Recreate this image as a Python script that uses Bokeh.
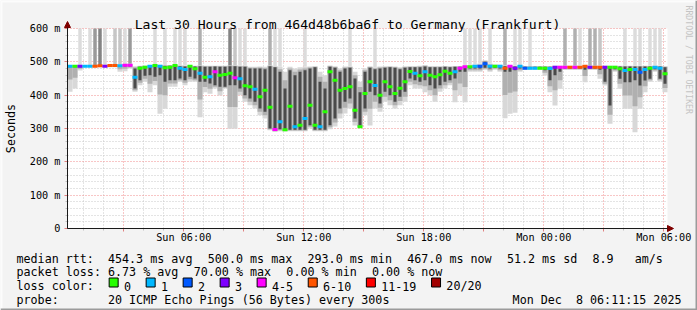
import math
from bokeh.plotting import figure
from bokeh.models import (Range1d, FixedTicker, Label, Arrow, NormalHead,
                          BoxAnnotation, ColumnDataSource, LinearAxis, Grid)
from bokeh.embed import file_html
from bokeh.resources import INLINE

# ---------------- data ----------------
START_H = 0.1875      # Sun 00:11:15 expressed in hours since Sun 00:00
STEP_H = 0.25         # one sample every 15 minutes
SPAN_H = 30.0

median_ms = [
    487, 487, 487, 487, 487, 487, 488, 487, 489, 489, 488, 490,
    490, 454, 481, 484, 487, 489, 487, 482, 484, 489, 481, 477,
    487, 479, 466, 454, 455, 470, 460, 462, 466, 452, 449, 428,
    425, 418, 395, 415, 364, 297, 320, 296, 367, 305, 310, 330,
    370, 310, 305, 350, 470, 445, 415, 420, 425, 355, 305, 405,
    440, 429, 400, 440, 425, 405, 421, 440, 471, 466, 458, 470,
    460, 455, 461, 472, 466, 470, 481, 485, 485, 487, 487, 494,
    487, 487, 487, 481, 487, 481, 487, 481, 481, 481, 481, 481,
    480, 484, 484, 484, 484, 484, 484, 487, 484, 484, 484, 484,
    484, 484, 479, 474, 477, 477, 469, 477, 481, 484, 481, 464,
]
loss_cnt = [
    1, 0, 3, 1, 1, 7, 7, 3, 7, 7, 1, 4,
    4, 1, 0, 0, 1, 0, 1, 0, 0, 0, 1, 1,
    0, 0, 1, 0, 1, 4, 0, 0, 0, 4, 1, 0,
    0, 1, 0, 0, 0, 4, 1, 0, 0, 1, 0, 1,
    0, 0, 1, 0, 0, 0, 0, 0, 0, 0, 0, 0,
    0, 1, 0, 0, 0, 0, 0, 0, 0, 1, 0, 1,
    0, 0, 0, 0, 0, 1, 4, 4, 0, 1, 2, 2,
    1, 0, 1, 7, 4, 3, 1, 2, 1, 1, 0, 0,
    1, 3, 4, 4, 7, 4, 7, 7, 3, 7, 7, 3,
    0, 0, 0, 1, 0, 1, 2, 1, 0, 1, 1, 0,
]
min_ms = [
    410, 420, 474, 484, 484, 484, 484, 484, 484, 484, 470, 472,
    480, 410, 430, 440, 409, 430, 344, 359, 425, 425, 440, 430,
    440, 440, 334, 409, 404, 420, 399, 420, 299, 299, 400, 380,
    370, 360, 340, 330, 295, 290, 292, 291, 292, 292, 292, 292,
    300, 292, 292, 292, 298, 306, 330, 345, 360, 309, 304, 340,
    309, 360, 350, 380, 370, 360, 370, 380, 430, 420, 420, 409,
    400, 380, 410, 420, 430, 379, 400, 379, 470, 470, 470, 476,
    470, 476, 470, 331, 344, 347, 470, 476, 476, 476, 476, 459,
    409, 369, 419, 476, 476, 476, 476, 439, 476, 476, 449, 429,
    314, 470, 419, 359, 359, 289, 359, 409, 440, 470, 440, 409,
]
low_ms = [
    484, 484, 484, 485, 485, 485, 485, 485, 486, 486, 485, 486,
    486, 420, 445, 458, 460, 455, 460, 440, 445, 445, 450, 445,
    455, 450, 440, 440, 435, 430, 425, 425, 430, 430, 420, 400,
    390, 380, 360, 350, 300, 293, 298, 294, 296, 296, 296, 296,
    310, 296, 296, 296, 310, 330, 360, 380, 390, 330, 309, 360,
    410, 400, 375, 410, 400, 380, 395, 410, 450, 445, 440, 445,
    430, 420, 430, 440, 445, 450, 470, 470, 480, 480, 480, 482,
    480, 482, 480, 470, 470, 475, 480, 480, 480, 480, 480, 475,
    445, 460, 470, 480, 480, 480, 480, 476, 480, 480, 476, 440,
    369, 478, 449, 439, 439, 445, 429, 444, 449, 478, 449, 434,
]
high_ms = [
    489, 489, 489, 489, 489, 489, 489, 489, 490, 490, 490, 491,
    492, 480, 485, 486, 488, 489, 489, 488, 488, 489, 487, 486,
    487, 486, 487, 485, 485, 486, 485, 485, 487, 487, 485, 485,
    480, 480, 480, 478, 487, 484, 470, 420, 475, 460, 470, 475,
    480, 484, 440, 420, 485, 482, 470, 480, 482, 450, 409, 470,
    482, 478, 480, 482, 484, 482, 478, 482, 484, 484, 484, 486,
    484, 484, 484, 485, 484, 485, 485, 486, 487, 488, 488, 500,
    489, 489, 489, 487, 487, 486, 487, 485, 485, 485, 485, 485,
    485, 486, 486, 486, 486, 486, 486, 488, 486, 486, 486, 486,
    486, 486, 486, 486, 486, 486, 486, 486, 486, 486, 486, 484,
]
max_ms = [
    490, 490, 490, 490, 490, 490, 490, 490, 492, 492, 492, 493,
    494, 487, 488, 489, 490, 491, 491, 490, 490, 491, 490, 489,
    489, 488, 489, 488, 488, 488, 488, 488, 489, 489, 488, 488,
    485, 485, 486, 485, 489, 487, 485, 470, 485, 480, 484, 485,
    486, 487, 470, 460, 489, 487, 480, 486, 487, 470, 440, 480,
    487, 484, 486, 487, 487, 486, 484, 487, 487, 487, 488, 490,
    487, 487, 487, 487, 487, 487, 487, 488, 489, 492, 495, 505,
    495, 492, 491, 490, 490, 488, 489, 487, 487, 487, 487, 487,
    487, 488, 488, 488, 488, 488, 488, 490, 488, 488, 488, 488,
    488, 488, 488, 488, 488, 488, 488, 488, 488, 488, 488, 487,
]
# pings of a sample that went above the top of the graph (600 ms)
over_cnt = [
    0, 0, 1, 0, 1, 4, 5, 1, 0, 2, 2, 1,
    4, 0, 0, 0, 0, 1, 0, 1, 0, 1, 1, 1,
    0, 0, 3, 0, 0, 0, 0, 0, 5, 2, 1, 1,
    0, 0, 0, 0, 3, 1, 1, 0, 0, 0, 0, 1,
    0, 0, 0, 0, 0, 0, 0, 0, 1, 0, 0, 0,
    0, 1, 0, 0, 0, 0, 0, 0, 0, 0, 0, 0,
    0, 0, 0, 0, 0, 0, 0, 1, 1, 1, 1, 0,
    1, 0, 0, 3, 0, 1, 1, 0, 1, 0, 0, 0,
    0, 0, 0, 3, 0, 3, 1, 0, 3, 3, 2, 0,
    0, 0, 0, 1, 0, 1, 1, 0, 1, 1, 1, 0,
]

x_tick_hours = [6, 12, 18, 24, 30]
x_tick_labels = ["Sun 06:00", "Sun 12:00", "Sun 18:00", "Mon 00:00", "Mon 06:00"]
y_tick_values = [0, 100, 200, 300, 400, 500, 600]
y_tick_labels = ["0", "100 m", "200 m", "300 m", "400 m", "500 m", "600 m"]

loss_upper = [0, 1, 2, 3, 5, 10, 19, 20]
loss_names = ["0", "1", "2", "3", "4-5", "6-10", "11-19", "20/20"]
loss_colors = ["#26ff00", "#00b8ff", "#0059ff", "#7e00ff",
               "#ff00ff", "#ff5500", "#ff0000", "#a10000"]

title_text = "Last 30 Hours from 464d48b6ba6f to Germany (Frankfurt)"
rtt_items = ["median rtt:  454.3 ms avg", "500.0 ms max", "293.0 ms min",
             "467.0 ms now", "51.2 ms sd", "8.9   am/s"]
loss_items = ["packet loss: 6.73 % avg", "70.00 % max", "0.00 % min", "0.00 % now"]
probe_item = "probe:       20 ICMP Echo Pings (56 Bytes) every 300s"
date_text = "Mon Dec  8 06:11:15 2025"

# ---------------- layout helpers (canvas pixel -> data) ----------------
W, H = 697, 310
FL, FT, FW, FH = 67, 28, 600, 200
Y_MAX = 600.0
CHAR_W = 7.046          # advance of the legend font
ITEM_GAP = 15.15        # rrdtool gap between legend items
BOX_ADV = 14.8          # legend box + space before its text


def dx(px):
    return START_H + (px - FL) * SPAN_H / FW


def dy(py):
    return (FT + FH - py) * Y_MAX / FH


def loss_color(c):
    for up, col in zip(loss_upper, loss_colors):
        if c <= up:
            return col
    return loss_colors[-1]


def over_gray(n):
    g = max(0x80, 0xdc - 0x16 * (n - 1))
    return "#%02x%02x%02x" % (g, g, g)


n = len(median_ms)
times = [START_H + STEP_H * (i + 0.5) for i in range(n)]

src = ColumnDataSource(dict(
    t=times, med=median_ms, lo=min_ms, lo2=low_ms, hi2=high_ms, hi=max_ms,
    mlo=[(a + b) / 2 for a, b in zip(min_ms, low_ms)],
    mhi=[(a + b) / 2 for a, b in zip(high_ms, max_ms)],
    lcol=[loss_color(c) for c in loss_cnt],
))

spk_idx = [i for i in range(n) if over_cnt[i] > 0]
spk = ColumnDataSource(dict(
    t=[times[i] for i in spk_idx],
    bot=[max_ms[i] for i in spk_idx],
    top=[Y_MAX for i in spk_idx],
    col=[over_gray(over_cnt[i]) for i in spk_idx],
))

# whole canvas is the frame; the graph area is [START_H, START_H+30] x [0, 600]
p = figure(frame_width=W, frame_height=H,
           x_range=Range1d(dx(0), dx(W)), y_range=Range1d(dy(H), dy(0)),
           output_backend="svg", toolbar_location=None,
           x_axis_location=None, y_axis_location=None,
           min_border=0, min_border_left=0, min_border_right=0,
           min_border_top=0, min_border_bottom=0)
p.center = []
p.background_fill_color = "#f3f3f3"
p.border_fill_color = "#f3f3f3"
p.outline_line_color = None

MONO = "DejaVu Sans Mono"
AXIS_COL = "#1a1a1a"

# white canvas of the graph
p.add_layout(BoxAnnotation(left=START_H, right=START_H + SPAN_H, bottom=0, top=Y_MAX,
                           fill_color="#ffffff", fill_alpha=1.0, line_color=None,
                           level="image"))

xt = list(range(3, 31, 3))
x_ticker = FixedTicker(ticks=xt, minor_ticks=[h for h in range(1, 31) if h % 3])
y_ticker = FixedTicker(ticks=y_tick_values,
                       minor_ticks=[v for v in range(20, 600, 20) if v % 100])

# grids
has_cross = "cross_bounds" in Grid.properties()
for dim, tk, b, cb in [(0, x_ticker, (START_H, START_H + SPAN_H), (0, Y_MAX)),
                       (1, y_ticker, (0, Y_MAX), (START_H, START_H + SPAN_H))]:
    g = Grid(dimension=dim, ticker=tk, bounds=b,
             grid_line_color="#f08c8c", grid_line_dash="1 2", grid_line_width=1,
             minor_grid_line_color="#c8c8c8", minor_grid_line_dash="1 2",
             minor_grid_line_width=1, level="underlay")
    if has_cross:
        g.cross_bounds = cb
    p.add_layout(g)

# axes fixed on the graph edges
xaxis = LinearAxis(fixed_location=0, bounds=(START_H, START_H + SPAN_H), ticker=x_ticker)
ov = {h: "" for h in xt}
for h, lab in zip(x_tick_hours, x_tick_labels):
    ov[h] = lab
xaxis.major_label_overrides = ov
yaxis = LinearAxis(fixed_location=START_H, bounds=(0, Y_MAX), ticker=y_ticker)
yaxis.major_label_overrides = dict(zip(y_tick_values, y_tick_labels))
for ax in (xaxis, yaxis):
    ax.axis_line_color = AXIS_COL
    ax.major_tick_line_color = "#e08080"
    ax.major_tick_in = 0
    ax.major_tick_out = 3
    ax.minor_tick_line_color = "#c0c0c0"
    ax.minor_tick_in = 0
    ax.minor_tick_out = 2
    ax.major_label_text_font = MONO
    ax.major_label_text_font_size = "10.2px"
    ax.major_label_text_color = "#000000"
xaxis.major_label_standoff = 0
yaxis.major_label_standoff = 4
p.add_layout(xaxis, "below")
p.add_layout(yaxis, "left")

# ---------------- smoke ----------------
p.vbar(x="t", bottom="lo", top="hi", width=STEP_H, source=src,
       fill_color="#d8d8d8", line_color=None)
p.vbar(x="t", bottom="mlo", top="mhi", width=STEP_H, source=src,
       fill_color="#b0b0b0", line_color=None)
p.vbar(x="t", bottom="lo2", top="hi2", width=STEP_H * 0.6, source=src,
       fill_color="#4a4a4a", line_color=None)
p.vbar(x="t", bottom="bot", top="top", width=STEP_H * 0.7, source=spk,
       fill_color="col", line_color=None)
# median, coloured by loss
p.rect(x="t", y="med", width=STEP_H, height=3, height_units="screen",
       source=src, fill_color="lcol", line_color=None)

# axis arrows
head_col = "#7f0000"
p.add_layout(Arrow(end=NormalHead(size=6, fill_color=head_col, line_color=head_col),
                   x_start=START_H, y_start=0, x_end=START_H, y_end=dy(21),
                   line_color=AXIS_COL, line_width=1))
p.add_layout(Arrow(end=NormalHead(size=6, fill_color=head_col, line_color=head_col),
                   x_start=START_H, y_start=0, x_end=dx(673), y_end=0,
                   line_color=AXIS_COL, line_width=1))


# ---------------- texts ----------------
NB = "\u00a0"


def label(px, py, text, size, align="left", angle=0.0, color="#000000", baseline="alphabetic"):
    p.add_layout(Label(x=dx(px), y=dy(py), text=text.replace(" ", NB), text_font=MONO,
                       text_font_size=size, text_align=align, text_baseline=baseline,
                       angle=angle, text_color=color))


def item_row(items, py, x0=16.0):
    x = x0
    for it in items:
        label(x, py, it, LEG)
        x += len(it) * CHAR_W + ITEM_GAP


LEG = "11.7px"
label(347, 24, title_text, "13.1px", align="center")
label(10, 128, "Seconds", LEG, align="center", angle=math.pi / 2, baseline="middle")
label(688, 5, "RRDTOOL / TOBI OETIKER", "8.2px", angle=-math.pi / 2,
      color="#c4c4c4", baseline="middle")

row_y = [258.0, 271.7, 285.7, 299.5]
item_row(rtt_items, row_y[0])
item_row(loss_items, row_y[1])
label(16, row_y[2], "loss color:", LEG)
label(16, row_y[3], probe_item, LEG)
label(681, row_y[3], date_text, LEG, align="right")

bx = 16 + len("loss color:") * CHAR_W + ITEM_GAP
for col, name in zip(loss_colors, loss_names):
    p.add_layout(BoxAnnotation(left=dx(bx), right=dx(bx + 9), top=dy(277.5), bottom=dy(286.5),
                               fill_color=col, fill_alpha=1.0,
                               line_color="#000000", line_width=1, line_alpha=1.0))
    label(bx + BOX_ADV, row_y[2], name, LEG)
    bx += BOX_ADV + len(name) * CHAR_W + ITEM_GAP

# 3-D frame round the image
for l, r, t, b, c in [(0, W, 0, 2, "#fcfcfc"), (0, 2, 0, H, "#fcfcfc"),
                      (0, W, H - 2, H, "#9b9b9b"), (W - 2, W, 0, H, "#9b9b9b")]:
    p.add_layout(BoxAnnotation(left=dx(l), right=dx(r), top=dy(t), bottom=dy(b),
                               fill_color=c, fill_alpha=1.0, line_color=None))

open("out.html", "w").write(file_html(p, INLINE))
